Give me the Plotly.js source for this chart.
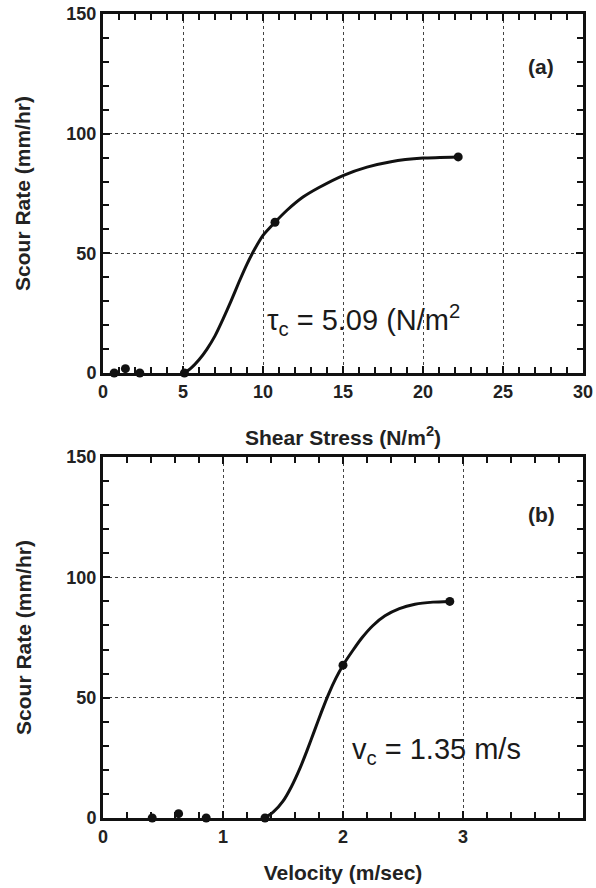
<!DOCTYPE html>
<html>
<head>
<meta charset="utf-8">
<script src="https://cdn.plot.ly/plotly-3.0.1.min.js"></script>
<style>
  html, body { margin: 0; padding: 0; background: #ffffff; }
  #chart { width: 596px; height: 888px; }
</style>
</head>
<body>
<div id="chart"></div>
<script>
// ---- Data ----
// (a) Scour rate vs shear stress: measured points
const shearStress = [0.7, 1.4, 2.3, 5.09, 10.75, 22.2];
const shearRate   = [0,   1.8, 0,   0,    63,    90.3];
// (a) fitted curve
const shearCurveX = [5.09, 5.5, 6, 6.5, 7, 7.5, 8, 8.5, 9, 9.5, 10, 10.75, 11.5, 12.5, 13.5, 15, 16.5, 18, 20, 22.2];
const shearCurveY = [0, 2, 5.5, 10, 15.5, 22.5, 30, 38, 45.5, 52, 57.5, 63, 68, 73.5, 77.5, 82.5, 86, 88.3, 89.8, 90.3];

// (b) Scour rate vs velocity: measured points
const velocity = [0.41, 0.63, 0.86, 1.35, 2.0, 2.89];
const velRate  = [0,    1.8,  0,    0,    63.5, 90];
// (b) fitted curve
const velCurveX = [1.35, 1.42, 1.5, 1.57, 1.64, 1.7, 1.76, 1.82, 1.88, 1.94, 2.0, 2.08, 2.16, 2.25, 2.35, 2.47, 2.6, 2.75, 2.89];
const velCurveY = [0, 2.5, 7, 13, 20.5, 28, 36, 44, 51.5, 58, 63.5, 69.5, 75, 80, 84, 87, 88.8, 89.7, 90];

// Tick labels
const shearTicks = [0, 5, 10, 15, 20, 25, 30];
const velTicks = [0, 1, 2, 3];
const rateTicks = [0, 50, 100, 150];

const FONT = '"Liberation Sans", Arial, Helvetica, sans-serif';
const INK = '#111111';

const traces = [
  {x: shearCurveX, y: shearCurveY, xaxis: 'x', yaxis: 'y', mode: 'lines',
   line: {color: INK, width: 3, shape: 'spline', smoothing: 0.6}, hoverinfo: 'skip', showlegend: false},
  {x: shearStress, y: shearRate, xaxis: 'x', yaxis: 'y', mode: 'markers',
   marker: {color: INK, size: 9}, showlegend: false, cliponaxis: false},
  {x: velCurveX, y: velCurveY, xaxis: 'x2', yaxis: 'y2', mode: 'lines',
   line: {color: INK, width: 3, shape: 'spline', smoothing: 0.6}, hoverinfo: 'skip', showlegend: false},
  {x: velocity, y: velRate, xaxis: 'x2', yaxis: 'y2', mode: 'markers',
   marker: {color: INK, size: 9}, showlegend: false, cliponaxis: false}
];

function axisBase(extra) {
  return Object.assign({
    showline: true, linecolor: INK, linewidth: 3, mirror: 'ticks',
    ticks: 'inside', ticklen: 7, tickwidth: 2, tickcolor: INK,
    gridcolor: '#444444', gridwidth: 1, griddash: 'dot',
    automargin: false, zeroline: false,
    tickfont: {family: FONT, size: 18, color: '#222222', weight: 'bold'}
  }, extra);
}
const titleFont = {family: FONT, size: 21, color: '#222222', weight: 'bold'};
function minorTicks(step) {
  return {dtick: step, ticks: 'inside', ticklen: 6, tickwidth: 2, tickcolor: INK};
}

const layout = {
  width: 596, height: 888,
  margin: {l: 103, r: 13, t: 14, b: 70},
  paper_bgcolor: '#ffffff', plot_bgcolor: '#ffffff',
  showlegend: false,
  xaxis: axisBase({
    domain: [0, 1], anchor: 'y', range: [0, 30],
    tickvals: shearTicks, ticktext: shearTicks.map(String),
    minor: minorTicks(1),
    title: {text: 'Shear Stress (N/m<sup>2</sup>)', font: titleFont, standoff: 30}
  }),
  yaxis: axisBase({
    domain: [0.5535, 1], anchor: 'x', range: [0, 150],
    tickvals: rateTicks, ticktext: rateTicks.map(String),
    minor: minorTicks(10),
    title: {text: 'Scour Rate (mm/hr)', font: titleFont, standoff: 30}
  }),
  xaxis2: axisBase({
    domain: [0, 1], anchor: 'y2', range: [0, 4],
    tickvals: velTicks, ticktext: velTicks.map(String),
    minor: minorTicks(0.2),
    title: {text: 'Velocity (m/sec)', font: titleFont, standoff: 20}
  }),
  yaxis2: axisBase({
    domain: [0, 0.449], anchor: 'x2', range: [0, 150],
    tickvals: rateTicks, ticktext: rateTicks.map(String),
    minor: minorTicks(10),
    title: {text: 'Scour Rate (mm/hr)', font: titleFont, standoff: 30}
  }),
  annotations: [
    {xref: 'x', yref: 'y', x: 27.4, y: 128, text: '(a)', showarrow: false,
     font: {family: FONT, size: 21, color: '#222222', weight: 'bold'}},
    {xref: 'x2', yref: 'y2', x: 3.65, y: 126, text: '(b)', showarrow: false,
     font: {family: FONT, size: 21, color: '#222222', weight: 'bold'}},
    {xref: 'x', yref: 'y', x: 10.1, y: 22, xanchor: 'left', text: 'τ<sub>c</sub> = 5.09 (N/m<sup>2</sup>', showarrow: false,
     font: {family: FONT, size: 29, color: '#1a1a1a'}},
    {xref: 'x2', yref: 'y2', x: 2.06, y: 28, xanchor: 'left', text: 'v<sub>c</sub> = 1.35 m/s', showarrow: false,
     font: {family: FONT, size: 29, color: '#1a1a1a'}}
  ]
};

Plotly.newPlot('chart', traces, layout, {displayModeBar: false});
</script>
</body>
</html>
